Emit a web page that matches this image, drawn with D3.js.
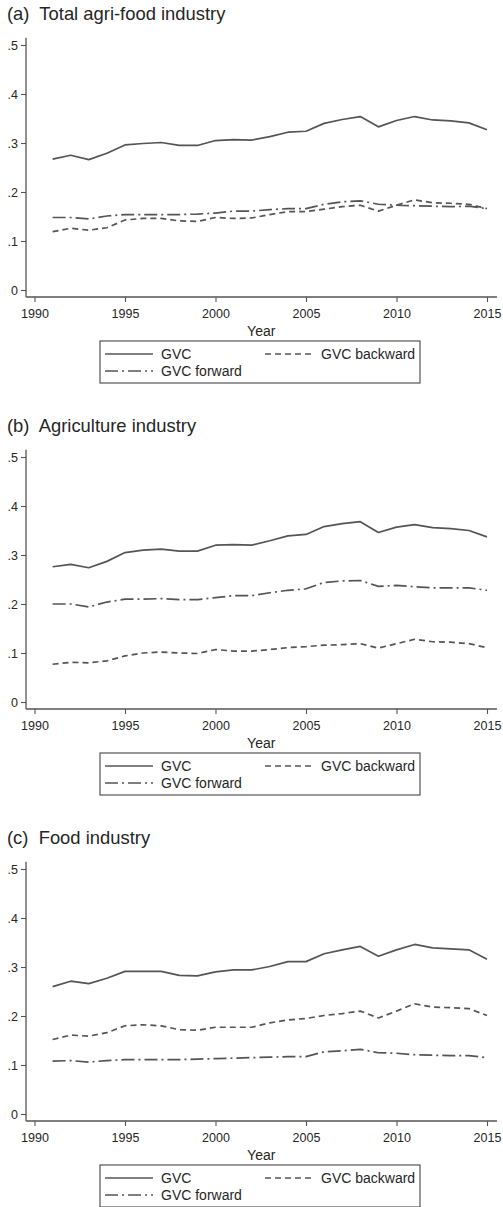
<!DOCTYPE html>
<html>
<head>
<meta charset="utf-8">
<script src="https://cdn.jsdelivr.net/npm/d3@7"></script>
<style>
  html, body { margin: 0; padding: 0; background: #fff; }
  svg { display: block; font-family: "Liberation Sans", Arial, Helvetica, sans-serif; }
</style>
</head>
<body>
<svg id="chart" width="503" height="1207"></svg>
<script>
// Years covered by every series
const years = d3.range(1991, 2016);

// Axis ticks
const yTicks = [0, 0.1, 0.2, 0.3, 0.4, 0.5];
const yTickLabels = ["0", ".1", ".2", ".3", ".4", ".5"];
const xTicks = [1990, 1995, 2000, 2005, 2010, 2015];

// Panel titles
const panelTitles = ["(a)  Total agri-food industry", "(b)  Agriculture industry", "(c)  Food industry"];

// Legend entries
const seriesNames = ["GVC", "GVC backward", "GVC forward"];

// (a) Total agri-food industry
const totalGVC = [0.267, 0.275, 0.266, 0.279, 0.296, 0.299, 0.301, 0.295, 0.295, 0.305, 0.307, 0.306, 0.313,
  0.322, 0.324, 0.340, 0.348, 0.354, 0.333, 0.346, 0.354, 0.347, 0.345, 0.341, 0.327];
const totalBackward = [0.119, 0.126, 0.122, 0.127, 0.143, 0.146, 0.146, 0.141, 0.140, 0.148, 0.146, 0.147, 0.154,
  0.160, 0.160, 0.165, 0.170, 0.173, 0.161, 0.173, 0.184, 0.178, 0.177, 0.175, 0.166];
const totalForward = [0.148, 0.148, 0.145, 0.151, 0.154, 0.154, 0.154, 0.154, 0.155, 0.157, 0.161, 0.161, 0.164,
  0.166, 0.166, 0.175, 0.180, 0.182, 0.175, 0.173, 0.172, 0.171, 0.170, 0.171, 0.166];

// (b) Agriculture industry
const agriGVC = [0.276, 0.281, 0.274, 0.287, 0.305, 0.310, 0.312, 0.308, 0.308, 0.320, 0.321, 0.320, 0.329,
  0.339, 0.342, 0.358, 0.364, 0.368, 0.346, 0.357, 0.362, 0.356, 0.354, 0.350, 0.337];
const agriBackward = [0.077, 0.081, 0.080, 0.084, 0.094, 0.100, 0.102, 0.100, 0.099, 0.107, 0.104, 0.104, 0.107,
  0.111, 0.113, 0.116, 0.117, 0.119, 0.110, 0.119, 0.128, 0.123, 0.122, 0.119, 0.111];
const agriForward = [0.200, 0.200, 0.194, 0.204, 0.210, 0.210, 0.211, 0.209, 0.209, 0.213, 0.217, 0.217, 0.223,
  0.228, 0.231, 0.244, 0.247, 0.248, 0.236, 0.238, 0.235, 0.233, 0.233, 0.233, 0.228];

// (c) Food industry
const foodGVC = [0.260, 0.271, 0.266, 0.277, 0.291, 0.291, 0.291, 0.283, 0.282, 0.290, 0.294, 0.294, 0.301,
  0.311, 0.311, 0.327, 0.335, 0.342, 0.322, 0.335, 0.346, 0.339, 0.337, 0.335, 0.316];
const foodBackward = [0.152, 0.161, 0.159, 0.166, 0.180, 0.182, 0.180, 0.172, 0.171, 0.177, 0.177, 0.177, 0.186,
  0.192, 0.195, 0.201, 0.205, 0.210, 0.196, 0.210, 0.225, 0.218, 0.217, 0.215, 0.201];
const foodForward = [0.108, 0.109, 0.106, 0.109, 0.111, 0.111, 0.111, 0.111, 0.112, 0.113, 0.114, 0.115, 0.116,
  0.117, 0.117, 0.127, 0.129, 0.132, 0.125, 0.124, 0.121, 0.120, 0.119, 0.119, 0.115];

const panels = [
  { title: panelTitles[0], series: [totalGVC, totalBackward, totalForward] },
  { title: panelTitles[1], series: [agriGVC, agriBackward, agriForward] },
  { title: panelTitles[2], series: [foodGVC, foodBackward, foodForward] }
];

// Line styles for GVC, backward and forward participation
const lineStyles = [
  { dash: null },
  { dash: "6,4" },
  { dash: "13,4,2,4" }
];

const ink = "#555";
const textColor = "#262626";
const svg = d3.select("#chart");

const panelHeight = 412;
const x = d3.scaleLinear().domain([1990, 2015]).range([34.5, 487]);

panels.forEach((panel, i) => {
  const oy = i * panelHeight;
  const g = svg.append("g").attr("transform", `translate(0,${oy})`);
  const y = d3.scaleLinear().domain([0, 0.5]).range([290, 45]);

  // Title
  g.append("text")
    .attr("x", 7).attr("y", 19.5)
    .attr("font-size", 18.4)
    .attr("fill", textColor)
    .attr("xml:space", "preserve")
    .style("white-space", "pre")
    .text(panel.title);

  const xAxisY = y(0) + 7;
  const yAxisX = x(1990) - 8.5;

  // Axis lines
  g.append("line")
    .attr("x1", yAxisX).attr("x2", yAxisX)
    .attr("y1", y(0.515)).attr("y2", xAxisY)
    .attr("stroke", ink).attr("stroke-width", 1.3);
  g.append("line")
    .attr("x1", yAxisX).attr("x2", x(2015.55))
    .attr("y1", xAxisY).attr("y2", xAxisY)
    .attr("stroke", ink).attr("stroke-width", 1.3);

  // Y axis ticks
  const yAxis = d3.axisLeft(y)
    .tickValues(yTicks)
    .tickFormat((d, k) => yTickLabels[k])
    .tickSize(5).tickPadding(3);
  const ya = g.append("g").attr("transform", `translate(${yAxisX},0)`).call(yAxis);
  ya.select(".domain").remove();
  ya.selectAll(".tick line").attr("stroke", ink).attr("stroke-width", 1.1);
  ya.selectAll(".tick text").attr("fill", textColor).attr("font-size", 12.5)
    .attr("font-family", "Liberation Sans, Arial, sans-serif");

  // X axis ticks
  const xAxis = d3.axisBottom(x)
    .tickValues(xTicks)
    .tickFormat(d3.format("d"))
    .tickSize(5).tickPadding(7.5);
  const xa = g.append("g").attr("transform", `translate(0,${xAxisY})`).call(xAxis);
  xa.select(".domain").remove();
  xa.selectAll(".tick line").attr("stroke", ink).attr("stroke-width", 1.1);
  xa.selectAll(".tick text").attr("fill", textColor).attr("font-size", 12.5)
    .attr("font-family", "Liberation Sans, Arial, sans-serif");

  // Axis title
  g.append("text")
    .attr("x", (x(1990) + x(2015)) / 2 + 0.5).attr("y", xAxisY + 39)
    .attr("text-anchor", "middle")
    .attr("font-size", 14)
    .attr("fill", textColor)
    .text("Year");

  // Series lines
  const line = d3.line().x((d, k) => x(years[k])).y(d => y(d));
  panel.series.forEach((vals, s) => {
    g.append("path")
      .datum(vals)
      .attr("d", line)
      .attr("fill", "none")
      .attr("stroke", ink)
      .attr("stroke-width", 1.7)
      .attr("stroke-linejoin", "round")
      .attr("stroke-dasharray", lineStyles[s].dash);
  });

  // Legend
  const lg = g.append("g").attr("transform", `translate(100,${xAxisY + 44})`);
  lg.append("rect")
    .attr("x", 0).attr("y", 0).attr("width", 320).attr("height", 42)
    .attr("fill", "#fff").attr("stroke", ink).attr("stroke-width", 1.2);
  const items = [
    { s: 0, lx: 5, ly: 13 },
    { s: 1, lx: 165, ly: 13 },
    { s: 2, lx: 5, ly: 30 }
  ];
  items.forEach(it => {
    lg.append("line")
      .attr("x1", it.lx).attr("x2", it.lx + 48)
      .attr("y1", it.ly).attr("y2", it.ly)
      .attr("stroke", ink).attr("stroke-width", 1.7)
      .attr("stroke-dasharray", lineStyles[it.s].dash);
    lg.append("text")
      .attr("x", it.lx + 56).attr("y", it.ly + 5)
      .attr("font-size", 14)
      .attr("fill", textColor)
      .text(seriesNames[it.s]);
  });
});
</script>
</body>
</html>
